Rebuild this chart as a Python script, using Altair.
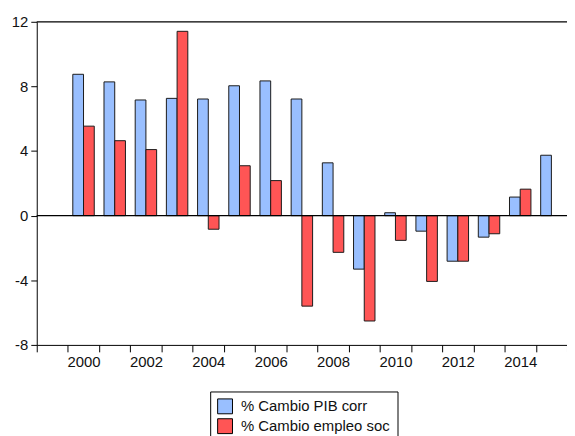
import altair as alt
import pandas as pd

years = list(range(2000, 2016))
pib = [8.75, 8.28, 7.16, 7.26, 7.22, 8.04, 8.34, 7.22, 3.27, -3.31, 0.18, -0.96, -2.82, -1.33, 1.15, 3.74]
empleo = [5.54, 4.64, 4.09, 11.41, -0.84, 3.09, 2.17, -5.60, -2.27, -6.52, -1.53, -4.07, -2.82, -1.12, 1.64, None]
x_domain = list(range(1999, 2016))
series_names = ["\u00a0% Cambio PIB corr", "% Cambio empleo soc"]
series_colors = ["#99BFFF", "#FF5555"]
y_ticks = [-8, -4, 0, 4, 8, 12]
frame_lines = [12, 0]

rows = []
for i, yr in enumerate(years):
    rows.append({"year": yr, "series": series_names[0], "value": pib[i]})
    if empleo[i] is not None:
        rows.append({"year": yr, "series": series_names[1], "value": empleo[i]})
df = pd.DataFrame(rows)

FONT = "Liberation Sans"

bars = alt.Chart(df).mark_bar(stroke="#1a1a1a", strokeWidth=1).encode(
    x=alt.X("year:O", scale=alt.Scale(domain=x_domain, paddingInner=0, paddingOuter=0),
            axis=alt.Axis(title=None, labelAngle=0, tickBand="extent",
                          labelExpr="datum.value % 2 == 0 ? datum.label : ''",
                          tickSize=7, labelPadding=3, labelFontSize=15,
                          domainColor="black", tickColor="black", labelColor="#111",
                          labelFont=FONT, grid=False)),
    xOffset=alt.XOffset("series:N", scale=alt.Scale(domain=series_names, paddingInner=0, paddingOuter=0.4545)),
    y=alt.Y("value:Q", scale=alt.Scale(domain=[-8, 12], nice=False),
            axis=alt.Axis(title=None, values=y_ticks, tickSize=6, labelPadding=3, labelFontSize=15,
                          labelExpr="datum.value + ''",
                          domainColor="black", tickColor="black", labelColor="#111",
                          labelFont=FONT, grid=False)),
    color=alt.Color("series:N", scale=alt.Scale(domain=series_names, range=series_colors),
                    legend=alt.Legend(title=None, orient="none", legendX=175, legendY=373,
                                      symbolType="square", symbolSize=225,
                                      symbolStrokeColor="black", symbolStrokeWidth=1,
                                      labelFontSize=15, labelFont=FONT, labelColor="#111",
                                      labelLimit=400, labelOffset=8, rowPadding=0,
                                      padding=7, strokeColor="black", fillColor="white")),
)

rules = alt.Chart(pd.DataFrame({"y": frame_lines})).mark_rule(color="black", strokeWidth=1.2).encode(
    y=alt.Y("y:Q")
)

chart = alt.layer(bars, rules).properties(
    width=535, height=326,
    autosize=alt.AutoSizeParams(type="none"),
    padding={"left": 29, "top": 12, "right": 0, "bottom": 90},
    background="white",
).configure_view(stroke=None)

chart.save("out.html", embed_options={"renderer": "svg", "actions": False})
